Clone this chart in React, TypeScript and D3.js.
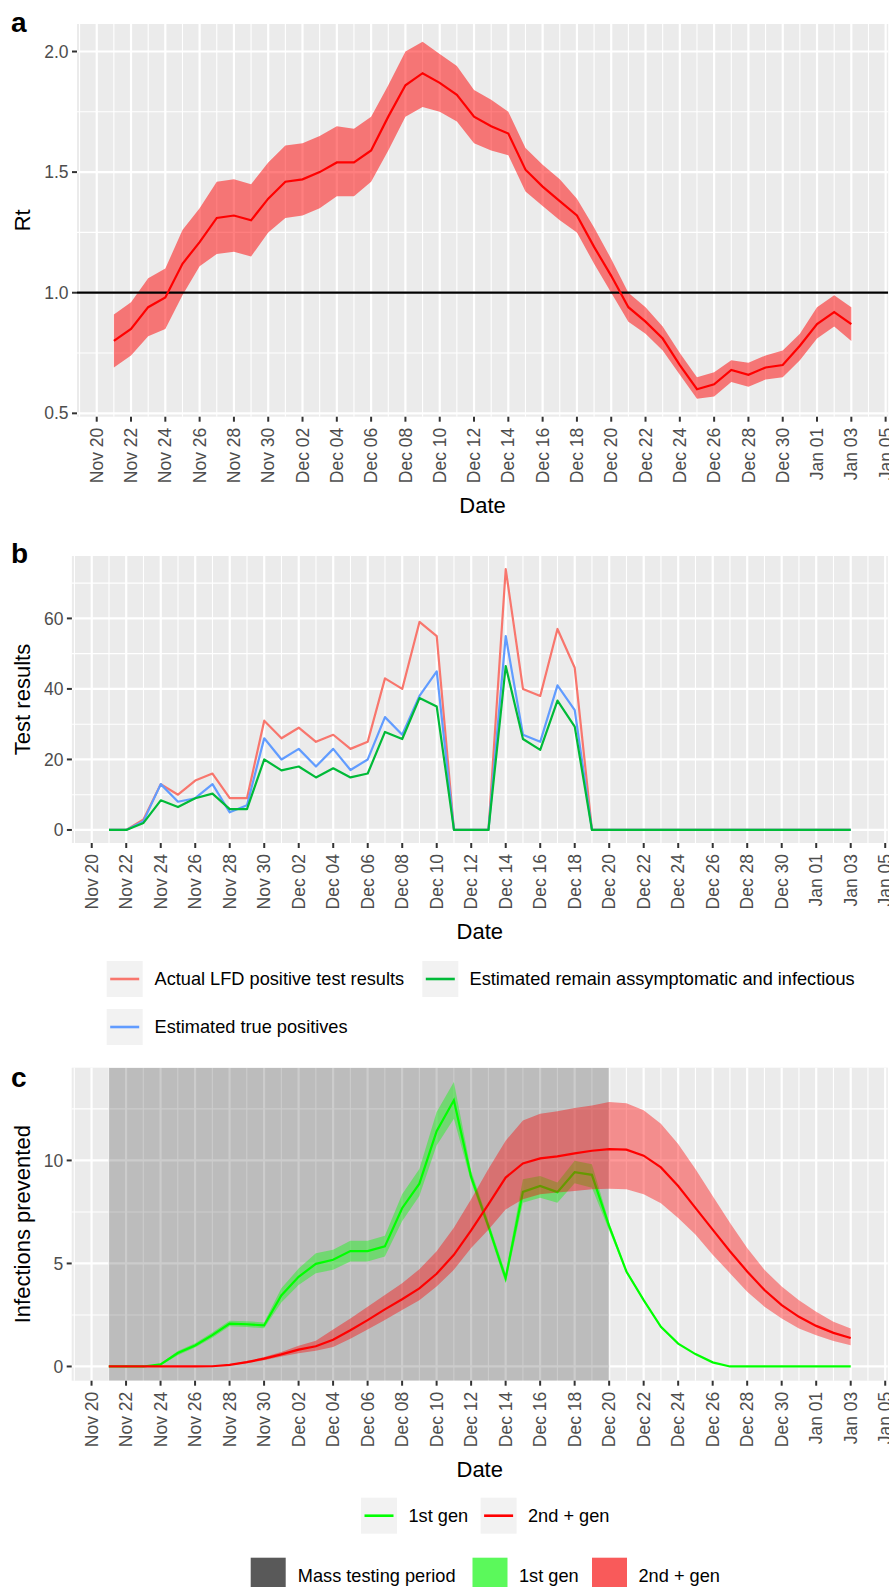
import React from 'react';
import * as d3 from 'd3';

const FONT = '"Liberation Sans", Arial, Helvetica, sans-serif';
const TICK_SIZE = 17.5;
const LEGEND_SIZE = 18.2;

// ---------- categories ----------
const startDate = new Date(Date.UTC(2020, 10, 21));
const endDate = new Date(Date.UTC(2021, 0, 3));
const dates: Date[] = d3.utcDay.range(startDate, d3.utcDay.offset(endDate, 1));
const majorTickDates: Date[] = d3.utcDay.range(new Date(Date.UTC(2020, 10, 20)), new Date(Date.UTC(2021, 0, 6)), 2);
const minorTickDates: Date[] = d3.utcDay.range(new Date(Date.UTC(2020, 10, 19)), new Date(Date.UTC(2021, 0, 7)), 2);
const massTestStart = new Date(Date.UTC(2020, 10, 21));
const massTestEnd = new Date(Date.UTC(2020, 11, 20));

// ---------- panel a: Rt ----------
const rtMean = [0.80, 0.85, 0.94, 0.98, 1.12, 1.21, 1.31, 1.32, 1.30, 1.39,
  1.46, 1.47, 1.50, 1.54, 1.54, 1.59, 1.73, 1.86, 1.91, 1.87,
  1.82, 1.73, 1.69, 1.66, 1.51, 1.44, 1.38, 1.32, 1.19, 1.07,
  0.94, 0.88, 0.81, 0.70, 0.60, 0.62, 0.68, 0.66, 0.69, 0.70, 0.78,
  0.87, 0.92, 0.87];
const rtUpper = [0.91, 0.96, 1.06, 1.10, 1.26, 1.35, 1.46, 1.47, 1.45, 1.54,
  1.61, 1.62, 1.65, 1.69, 1.68, 1.73, 1.86, 2.00, 2.04, 1.99,
  1.94, 1.84, 1.80, 1.75, 1.60, 1.53, 1.47, 1.39, 1.27, 1.14,
  1.00, 0.94, 0.86, 0.75, 0.65, 0.67, 0.72, 0.71, 0.74, 0.76, 0.83,
  0.94, 0.99, 0.94];
const rtLower = [0.69, 0.74, 0.82, 0.85, 0.99, 1.11, 1.16, 1.17, 1.15, 1.25,
  1.31, 1.32, 1.35, 1.40, 1.40, 1.46, 1.59, 1.73, 1.77, 1.75,
  1.71, 1.62, 1.59, 1.57, 1.42, 1.36, 1.30, 1.25, 1.12, 1.00,
  0.88, 0.83, 0.76, 0.66, 0.56, 0.57, 0.63, 0.61, 0.64, 0.65, 0.72,
  0.81, 0.86, 0.80];
const rtTicks = [0.5, 1.0, 1.5, 2.0];
const rtMinor = [0.75, 1.25, 1.75];

// ---------- panel b: test results ----------
const actualLFD = [0, 0, 3, 13, 10, 14, 16, 9, 9, 31,
  26, 29, 25, 27, 23, 25, 43, 40, 59, 55,
  0, 0, 0, 74, 40, 38, 57, 46, 0, 0,
  0, 0, 0, 0, 0, 0, 0, 0, 0, 0, 0,
  0, 0, 0];
const truePositives = [0, 0, 2.5, 13, 8, 9, 13, 5, 7, 26,
  20, 23, 18, 23, 17, 20, 32, 27, 38, 45,
  0, 0, 0, 55, 27, 25, 41, 34, 0, 0,
  0, 0, 0, 0, 0, 0, 0, 0, 0, 0, 0,
  0, 0, 0];
const remainInfectious = [0, 0, 2, 8.4, 6.5, 9, 10.3, 5.9, 5.9, 20,
  16.9, 18, 14.9, 17.5, 14.9, 16, 27.8, 25.8, 37.4, 35,
  0, 0, 0, 46.5, 25.8, 22.7, 36.7, 29.3, 0, 0,
  0, 0, 0, 0, 0, 0, 0, 0, 0, 0, 0,
  0, 0, 0];
const testTicks = [0, 20, 40, 60];
const testMinor = [10, 30, 50, 70];
const testSeriesNames = ['Actual LFD positive test results', 'Estimated remain assymptomatic and infectious', 'Estimated true positives'];
const testSeriesColors = ['#F8766D', '#00BA38', '#619CFF'];

// ---------- panel c: infections prevented ----------
const gen1 = [0, 0, 0, 0.1, 0.65, 1.02, 1.52, 2.08, 2.05, 1.99,
  3.45, 4.35, 4.98, 5.18, 5.6, 5.6, 5.83, 7.68, 8.87, 11.42,
  12.92, 9.2, 6.81, 4.28, 8.47, 8.76, 8.46, 9.43, 9.3, 6.81,
  4.61, 3.22, 1.92, 1.11, 0.6, 0.2, 0, 0, 0, 0, 0,
  0, 0, 0];
const gen1Upper = [0, 0, 0, 0.15, 0.75, 1.13, 1.65, 2.22, 2.2, 2.14,
  3.8, 4.75, 5.5, 5.67, 6.1, 6.1, 6.35, 8.36, 9.58, 12.35,
  13.81, 9.5, 7.05, 4.53, 9.09, 9.25, 8.93, 9.98, 9.82, 7.0,
  4.7, 3.28, 1.96, 1.14, 0.62, 0.21, 0, 0, 0, 0, 0,
  0, 0, 0];
const gen1Lower = [0, 0, 0, 0.05, 0.55, 0.92, 1.4, 1.95, 1.92, 1.85,
  3.1, 3.95, 4.53, 4.69, 5.1, 5.1, 5.34, 7.05, 8.27, 10.72,
  12.02, 8.95, 6.6, 4.04, 7.95, 8.19, 7.95, 8.89, 8.68, 6.6,
  4.52, 3.16, 1.88, 1.08, 0.58, 0.19, 0, 0, 0, 0, 0,
  0, 0, 0];
const gen2 = [0, 0, 0, 0, 0, 0, 0.01, 0.08, 0.21, 0.38,
  0.59, 0.82, 0.98, 1.3, 1.76, 2.25, 2.77, 3.26, 3.79, 4.5,
  5.42, 6.61, 7.87, 9.17, 9.85, 10.1, 10.2, 10.34, 10.47, 10.55,
  10.52, 10.23, 9.66, 8.76, 7.7, 6.64, 5.59, 4.61, 3.71, 2.98, 2.41,
  1.97, 1.63, 1.38];
const gen2Upper = [0, 0, 0, 0, 0, 0, 0.02, 0.1, 0.26, 0.46,
  0.7, 1.0, 1.25, 1.79, 2.33, 2.9, 3.47, 4.04, 4.72, 5.59,
  6.73, 8.11, 9.58, 10.96, 11.94, 12.26, 12.39, 12.54, 12.67, 12.83,
  12.78, 12.43, 11.78, 10.8, 9.58, 8.27, 6.97, 5.75, 4.69, 3.88, 3.22,
  2.65, 2.17, 1.84];
const gen2Lower = [0, 0, 0, 0, 0, 0, 0, 0.06, 0.16, 0.3,
  0.48, 0.64, 0.76, 0.94, 1.35, 1.79, 2.25, 2.74, 3.22, 3.88,
  4.69, 5.75, 6.64, 7.62, 8.11, 8.36, 8.44, 8.52, 8.6, 8.63,
  8.6, 8.36, 7.92, 7.21, 6.4, 5.42, 4.53, 3.63, 2.9, 2.33, 1.84,
  1.51, 1.24, 1.03];
const infTicks = [0, 5, 10];
const infMinor = [2.5, 7.5, 12.5];

// ---------- helpers ----------
const fmtDate = d3.utcFormat('%b %d');
const span = (+endDate - +startDate) * 0.05;
const xDomain: [Date, Date] = [new Date(+startDate - span), new Date(+endDate + span)];

function expand(lo: number, hi: number): [number, number] {
  const e = (hi - lo) * 0.05;
  return [lo - e, hi + e];
}

type PanelProps = {
  left: number; right: number; top: number; bottom: number;
  yDomain: [number, number]; yMajor: number[]; yMinor: number[];
  yFmt: (v: number) => string; yLabel: string; letter: string; letterY: number;
  render: (x: d3.ScaleTime<number, number>, y: d3.ScaleLinear<number, number>) => React.ReactNode;
  overlay?: (x: d3.ScaleTime<number, number>, y: d3.ScaleLinear<number, number>) => React.ReactNode;
  id: string;
};

function Panel(p: PanelProps) {
  const x = d3.scaleUtc().domain(xDomain).range([p.left, p.right]);
  const y = d3.scaleLinear().domain(p.yDomain).range([p.bottom, p.top]);
  const inX = (d: Date) => x(d) >= p.left && x(d) <= p.right;
  const inY = (v: number) => y(v) >= p.top && y(v) <= p.bottom;
  const cx = (p.left + p.right) / 2;
  const cy = (p.top + p.bottom) / 2;
  return (
    <g>
      <defs>
        <clipPath id={p.id}>
          <rect x={p.left} y={p.top} width={p.right - p.left} height={p.bottom - p.top} />
        </clipPath>
      </defs>
      <rect x={p.left} y={p.top} width={p.right - p.left} height={p.bottom - p.top} fill="#EBEBEB" />
      {p.yMinor.filter(inY).map((v) => (
        <line key={'ym' + v} x1={p.left} x2={p.right} y1={y(v)} y2={y(v)} stroke="#fff" strokeWidth={1.1} />
      ))}
      {minorTickDates.filter(inX).map((d) => (
        <line key={'xm' + +d} x1={x(d)} x2={x(d)} y1={p.top} y2={p.bottom} stroke="#fff" strokeWidth={1.1} />
      ))}
      {p.yMajor.map((v) => (
        <line key={'yM' + v} x1={p.left} x2={p.right} y1={y(v)} y2={y(v)} stroke="#fff" strokeWidth={2.2} />
      ))}
      {majorTickDates.filter(inX).map((d) => (
        <line key={'xM' + +d} x1={x(d)} x2={x(d)} y1={p.top} y2={p.bottom} stroke="#fff" strokeWidth={2.2} />
      ))}
      <g clipPath={`url(#${p.id})`}>
        {p.overlay ? p.overlay(x, y) : null}
        {p.render(x, y)}
      </g>
      {/* y axis */}
      {p.yMajor.map((v) => (
        <g key={'yt' + v}>
          <line x1={p.left - 5} x2={p.left} y1={y(v)} y2={y(v)} stroke="#333" strokeWidth={2} />
          <text x={p.left - 8.5} y={y(v)} dy="0.35em" textAnchor="end" fontSize={TICK_SIZE} fill="#4D4D4D" fontFamily={FONT}>
            {p.yFmt(v)}
          </text>
        </g>
      ))}
      {/* x axis */}
      {majorTickDates.filter(inX).map((d) => (
        <g key={'xt' + +d}>
          <line x1={x(d)} x2={x(d)} y1={p.bottom} y2={p.bottom + 5} stroke="#333" strokeWidth={2} />
          <text
            transform={`translate(${x(d)},${p.bottom + 11}) rotate(-90)`}
            dy="0.35em" textAnchor="end" fontSize={TICK_SIZE} fill="#4D4D4D" fontFamily={FONT}
          >
            {fmtDate(d)}
          </text>
        </g>
      ))}
      <text x={cx} y={p.bottom + 96} textAnchor="middle" fontSize={22} fill="#000" fontFamily={FONT}>Date</text>
      <text transform={`translate(30,${cy}) rotate(-90)`} textAnchor="middle" fontSize={22} fill="#000" fontFamily={FONT}>
        {p.yLabel}
      </text>
      <text x={11} y={p.letterY} fontSize={28} fontWeight="bold" fill="#000" fontFamily={FONT}>{p.letter}</text>
    </g>
  );
}

type LineKey = { label: string; color: string; kx: number; tx: number; cy: number };
type FillKey = { label: string; color: string; kx: number; tx: number; cy: number };

function LineLegendKey({ k }: { k: LineKey }) {
  return (
    <g>
      <rect x={k.kx} y={k.cy - 18} width={36} height={36} fill="#F2F2F2" />
      <line x1={k.kx + 3.5} x2={k.kx + 32.5} y1={k.cy} y2={k.cy} stroke={k.color} strokeWidth={2.6} />
      <text x={k.tx} y={k.cy} dy="0.35em" fontSize={LEGEND_SIZE} fill="#000" fontFamily={FONT}>{k.label}</text>
    </g>
  );
}
function FillLegendKey({ k }: { k: FillKey }) {
  return (
    <g>
      <rect x={k.kx} y={k.cy - 18} width={35} height={36} fill={k.color} />
      <text x={k.tx} y={k.cy} dy="0.35em" fontSize={LEGEND_SIZE} fill="#000" fontFamily={FONT}>{k.label}</text>
    </g>
  );
}

export default function App() {
  const idx = dates.map((_, i) => i);

  const rtDomain = expand(d3.min(rtLower)!, d3.max(rtUpper)!);
  const testDomain = expand(0, d3.max(actualLFD)!);
  const infDomain = expand(0, d3.max([...gen1Upper, ...gen2Upper])!);

  const bLegend: LineKey[] = [
    { label: testSeriesNames[0], color: testSeriesColors[0], kx: 106.7, tx: 154.5, cy: 979 },
    { label: testSeriesNames[1], color: testSeriesColors[1], kx: 422.3, tx: 469.5, cy: 979 },
    { label: testSeriesNames[2], color: testSeriesColors[2], kx: 106.7, tx: 154.5, cy: 1027 },
  ];
  const cLineLegend: LineKey[] = [
    { label: '1st gen', color: '#00FF00', kx: 361, tx: 408.5, cy: 1515.7 },
    { label: '2nd + gen', color: '#FF0000', kx: 480.6, tx: 528, cy: 1515.7 },
  ];
  const cFillLegend: FillKey[] = [
    { label: 'Mass testing period', color: '#595959', kx: 250.7, tx: 297.8, cy: 1575.7 },
    { label: '1st gen', color: '#5BF95B', kx: 472.5, tx: 519, cy: 1575.7 },
    { label: '2nd + gen', color: '#F95A5A', kx: 592, tx: 638.5, cy: 1575.7 },
  ];

  return (
    <svg width={889} height={1587} style={{ position: 'absolute', left: 0, top: 0, background: '#fff' }}
      fontFamily={FONT}>
      <rect x={0} y={0} width={889} height={1587} fill="#fff" />
      {/* Panel a */}
      <Panel id="clipA" left={77} right={888.2} top={24} bottom={416.7}
        yDomain={rtDomain} yMajor={rtTicks} yMinor={rtMinor} yFmt={d3.format('.1f')}
        yLabel="Rt" letter="a" letterY={31.5}
        render={(x, y) => {
          const area = d3.area<number>().x((i) => x(dates[i])).y0((i) => y(rtLower[i])).y1((i) => y(rtUpper[i]));
          const line = d3.line<number>().x((i) => x(dates[i])).y((i) => y(rtMean[i]));
          return (
            <g>
              <path d={area(idx)!} fill="#FF0000" fillOpacity={0.5} />
              <line x1={x.range()[0]} x2={x.range()[1]} y1={y(1)} y2={y(1)} stroke="#000" strokeWidth={2.2} />
              <path d={line(idx)!} fill="none" stroke="#FF0000" strokeWidth={2.2} />
            </g>
          );
        }}
      />
      {/* Panel b */}
      <Panel id="clipB" left={71.9} right={887.8} top={556} bottom={843}
        yDomain={testDomain} yMajor={testTicks} yMinor={testMinor} yFmt={d3.format('d')}
        yLabel="Test results" letter="b" letterY={563}
        render={(x, y) => {
          const mk = (vals: number[]) => d3.line<number>().x((i) => x(dates[i])).y((i) => y(vals[i]))(idx)!;
          return (
            <g fill="none" strokeWidth={2.2} strokeLinejoin="round">
              <path d={mk(actualLFD)} stroke={testSeriesColors[0]} />
              <path d={mk(truePositives)} stroke={testSeriesColors[2]} />
              <path d={mk(remainInfectious)} stroke={testSeriesColors[1]} />
            </g>
          );
        }}
      />
      {bLegend.map((k) => <LineLegendKey key={k.label} k={k} />)}
      {/* Panel c */}
      <Panel id="clipC" left={71.7} right={887.8} top={1067.7} bottom={1380.7}
        yDomain={infDomain} yMajor={infTicks} yMinor={infMinor} yFmt={d3.format('d')}
        yLabel="Infections prevented" letter="c" letterY={1087}
        overlay={(x, y) => (
          <rect x={x(massTestStart)} y={y.range()[1]} width={x(massTestEnd) - x(massTestStart)}
            height={y.range()[0] - y.range()[1]} fill="#000" fillOpacity={0.2} />
        )}
        render={(x, y) => {
          const area = (lo: number[], hi: number[]) =>
            d3.area<number>().x((i) => x(dates[i])).y0((i) => y(lo[i])).y1((i) => y(hi[i]))(idx)!;
          const line = (v: number[]) => d3.line<number>().x((i) => x(dates[i])).y((i) => y(v[i]))(idx)!;
          return (
            <g>
              <path d={area(gen1Lower, gen1Upper)} fill="#00FF00" fillOpacity={0.4} />
              <path d={line(gen1)} fill="none" stroke="#00FF00" strokeWidth={2.2} />
              <path d={area(gen2Lower, gen2Upper)} fill="#FF0000" fillOpacity={0.4} />
              <path d={line(gen2)} fill="none" stroke="#FF0000" strokeWidth={2.2} />
            </g>
          );
        }}
      />
      {cLineLegend.map((k) => <LineLegendKey key={'l' + k.label} k={k} />)}
      {cFillLegend.map((k) => <FillLegendKey key={'f' + k.label} k={k} />)}
    </svg>
  );
}
